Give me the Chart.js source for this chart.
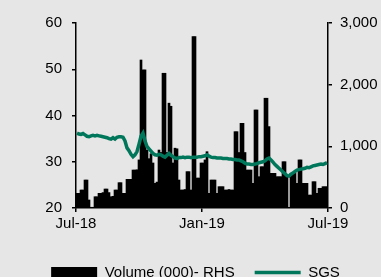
<!DOCTYPE html>
<html>
<head>
<meta charset="utf-8">
<script src="https://cdn.jsdelivr.net/npm/chart.js@4"></script>
<style>
  html, body { margin: 0; padding: 0; background: #e6e6e6; }
  #wrap { width: 381px; height: 277px; }
</style>
</head>
<body>
<div id="wrap"><canvas id="chart" width="381" height="277"></canvas></div>
<script>
// axis labels (months from Jul-18)
const tickLabels = ["Jul-18", "Jan-19", "Jul-19"];

// daily volume, thousands (RHS)
const volume = [
  238, 238, 292, 292, 454, 454, 130, 10, 10, 183,
  183, 238, 238, 250, 308, 308, 250, 183, 190, 292,
  292, 411, 411, 238, 238, 465, 465, 465, 616, 616,
  620, 780, 2400, 2240, 2240, 940, 800, 880, 730, 400,
  420, 940, 900, 2185, 2185, 900, 1700, 1650, 730, 970,
  960, 454, 292, 292, 300, 590, 590, 292, 2780, 2780,
  486, 486, 730, 730, 780, 913, 238, 454, 454, 454,
  238, 346, 346, 346, 292, 292, 300, 292, 292, 1238,
  1238, 900, 1373, 1373, 900, 616, 616, 616, 400, 1590,
  1590, 508, 670, 670, 1780, 1780, 1320, 562, 562, 562,
  508, 508, 508, 751, 751, 508, 0, 562, 562, 562,
  400, 780, 780, 400, 400, 400, 210, 210, 427, 427,
  238, 320, 320, 346, 346, 346
];

// SGS share price (LHS)
const sgs = [
  36.2, 36.0, 35.9, 36.1, 35.8, 35.5, 35.4, 35.6, 35.7, 35.6,
  35.7, 35.6, 35.5, 35.4, 35.3, 35.2, 35.0, 34.9, 35.2, 34.9,
  35.3, 35.4, 35.4, 35.3, 34.5, 33.0, 32.4, 31.6, 31.1, 31.5,
  32.2, 33.8, 35.5, 36.2, 34.5, 33.3, 32.8, 32.3, 31.8, 31.5,
  31.4, 31.6, 31.5, 31.2, 31.0, 31.4, 31.8, 31.4, 31.1, 30.8,
  30.7, 30.9, 30.9, 31.0, 30.9, 31.0, 31.0, 30.9, 31.0, 31.0,
  31.0, 31.1, 31.1, 31.2, 31.3, 31.5, 31.2, 31.0, 30.9, 30.9,
  30.8, 30.8, 30.8, 30.7, 30.7, 30.7, 30.6, 30.6, 30.5, 30.5,
  30.4, 30.4, 30.2, 30.0, 29.7, 29.5, 29.5, 29.4, 29.4, 29.5,
  29.6, 29.8, 29.9, 30.0, 30.2, 30.6, 30.8, 30.4, 29.9, 29.4,
  29.0, 28.6, 28.2, 27.8, 27.4, 27.0, 26.9, 27.3, 27.6, 27.9,
  28.2, 28.3, 28.4, 28.5, 28.6, 28.8, 28.7, 28.9, 29.1, 29.2,
  29.3, 29.4, 29.5, 29.4, 29.6, 29.8
];

let font = { family: "'Liberation Sans', Arial, sans-serif", size: 15 };

// spread the trading days evenly over the 12 months
let pos = volume.map((v, i) => (i + 0.5) * 12 / volume.length);

// squeeze the legend box so its row sits low like the original
const legendFix = {
  id: 'legendFix',
  afterInit(c) {
    let lg = c.legend;
    let fit = lg.fit.bind(lg);
    lg.fit = function () {
      fit();
      this.height = 32;
    };
  }
};

let ctx = document.getElementById("chart").getContext("2d");

let chart = new Chart(ctx, {
  type: 'bar',
  data: {
    datasets: [
      {
        type: 'bar',
        label: 'Volume (000)- RHS',
        data: volume.map((v, i) => ({ x: pos[i], y: v })),
        backgroundColor: '#000',
        borderWidth: 0,
        barPercentage: 1,
        categoryPercentage: 1,
        yAxisID: 'y1',
        order: 1
      },
      {
        type: 'line',
        label: 'SGS',
        data: sgs.map((v, i) => ({ x: pos[i], y: v })),
        borderColor: '#00775a',
        borderWidth: 3.5,
        pointRadius: 0,
        tension: 0,
        yAxisID: 'y',
        order: 0
      }
    ]
  },
  plugins: [legendFix],
  options: {
    responsive: false,
    devicePixelRatio: 1,
    animation: false,
    layout: { padding: { top: 23, left: 10, right: 0, bottom: 0 } },
    scales: {
      x: {
        type: 'linear',
        min: 0,
        max: 12,
        offset: false,
        grid: { drawOnChartArea: false, offset: false, tickLength: 4, color: '#000', lineWidth: 1.5 },
        border: { color: '#000', width: 1.5 },
        ticks: {
          stepSize: 6,
          color: '#000',
          font: font,
          padding: 3,
          maxRotation: 0,
          align: 'center',
          callback: v => tickLabels[v / 6]
        },
        afterFit: s => { s.height = 37; }
      },
      y: {
        position: 'left',
        min: 20,
        max: 60,
        grid: { drawOnChartArea: false, tickLength: 4, color: '#000', lineWidth: 1.5 },
        border: { color: '#000', width: 1.5 },
        ticks: { stepSize: 10, color: '#000', font: font, padding: 10 },
        afterFit: s => { s.width = 66; }
      },
      y1: {
        position: 'right',
        min: 0,
        max: 3000,
        grid: { drawOnChartArea: false, tickLength: 4, color: '#000', lineWidth: 1.5 },
        border: { color: '#000', width: 1.5 },
        ticks: {
          stepSize: 1000,
          color: '#000',
          font: font,
          padding: 8,
          callback: v => v.toLocaleString('en-US')
        },
        afterFit: s => { s.width = 53; }
      }
    },
    plugins: {
      tooltip: { enabled: false },
      legend: {
        position: 'bottom',
        labels: {
          color: '#000',
          font: font,
          padding: 20,
          usePointStyle: true,
          pointStyleWidth: 46,
          boxHeight: 11,
          sort: (a, b) => a.datasetIndex - b.datasetIndex,
          generateLabels: c => {
            let items = Chart.defaults.plugins.legend.labels.generateLabels(c);
            items.forEach(it => {
              if (it.datasetIndex === 0) {
                it.pointStyle = 'rect';
                it.fillStyle = '#000';
                it.strokeStyle = '#000';
                it.lineWidth = 0;
              } else {
                it.pointStyle = 'line';
                it.strokeStyle = '#00775a';
                it.lineWidth = 3.5;
              }
            });
            return items;
          }
        }
      }
    }
  }
});
</script>
</body>
</html>
